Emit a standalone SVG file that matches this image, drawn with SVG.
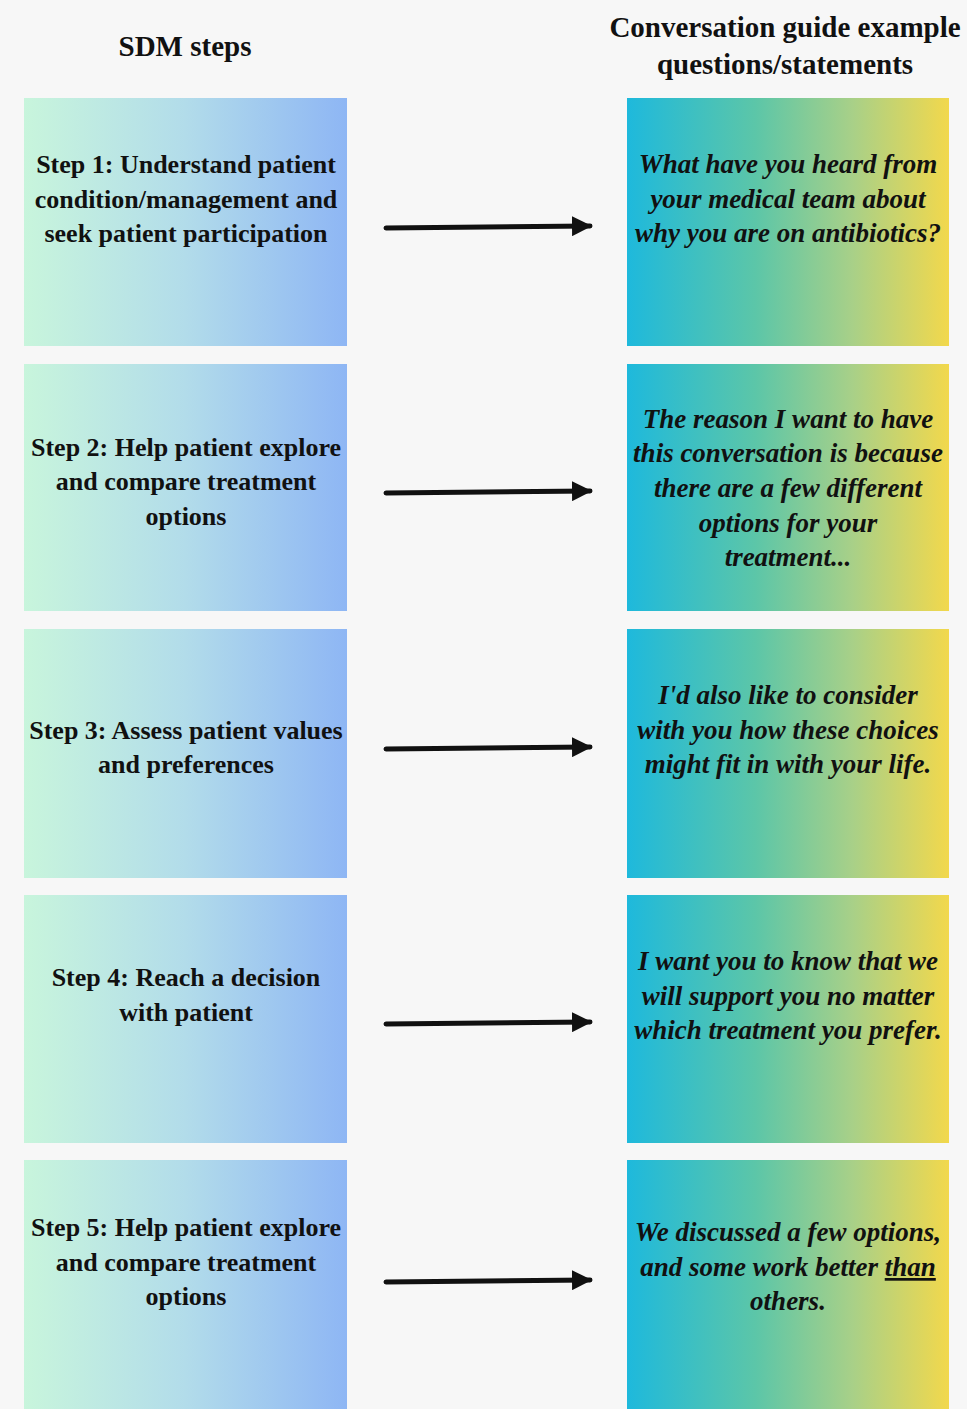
<svg xmlns="http://www.w3.org/2000/svg" width="967" height="1409" viewBox="0 0 967 1409">
<defs>
<linearGradient id="gl" x1="0" y1="0" x2="1" y2="0">
<stop offset="0" stop-color="#c8f5dc"/>
<stop offset="0.5" stop-color="#b2dcea"/>
<stop offset="1" stop-color="#8eb6f4"/>
</linearGradient>
<linearGradient id="gr" x1="0" y1="0" x2="1" y2="0">
<stop offset="0" stop-color="#1eb9dc"/>
<stop offset="0.4" stop-color="#5cc6a8"/>
<stop offset="0.7" stop-color="#a8d088"/>
<stop offset="1" stop-color="#f2d84c"/>
</linearGradient>
<marker id="ah" viewBox="0 0 10 10" refX="9" refY="5" markerWidth="4" markerHeight="4" orient="auto" markerUnits="strokeWidth">
<path d="M0,0 L10,5 L0,10 Z" fill="#111"/>
</marker>
<style>
text{font-family:"Liberation Serif","DejaVu Serif",serif;font-weight:bold;fill:#111;text-anchor:middle;font-size:26px}
.h{font-size:29px}
.q{font-style:italic;font-size:27px}
.l{fill:url(#gl)}
.r{fill:url(#gr)}
.c{stroke:#111;stroke-width:5;fill:none;marker-end:url(#ah);stroke-linecap:round}
</style>
</defs>
<rect width="967" height="1409" fill="#f7f7f7"/>
<g id="headers">
<text class="h" x="185" y="56">SDM steps</text>
<text class="h" x="785" y="37">Conversation guide example</text>
<text class="h" x="785" y="74">questions/statements</text>
</g>
<g id="step1">
<rect class="l" x="24" y="98" width="323" height="248"/>
<text x="186" y="173">Step 1: Understand patient</text>
<text x="186" y="208">condition/management and</text>
<text x="186" y="242">seek patient participation</text>
</g>
<g id="q1">
<rect class="r" x="627" y="98" width="322" height="248"/>
<text class="q" x="788" y="173">What have you heard from</text>
<text class="q" x="788" y="208">your medical team about</text>
<text class="q" x="788" y="242">why you are on antibiotics?</text>
</g>
<g id="step2">
<rect class="l" x="24" y="364" width="323" height="247"/>
<text x="186" y="456">Step 2: Help patient explore</text>
<text x="186" y="490">and compare treatment</text>
<text x="186" y="525">options</text>
</g>
<g id="q2">
<rect class="r" x="627" y="364" width="322" height="247"/>
<text class="q" x="788" y="428">The reason I want to have</text>
<text class="q" x="788" y="462">this conversation is because</text>
<text class="q" x="788" y="497">there are a few different</text>
<text class="q" x="788" y="532">options for your</text>
<text class="q" x="788" y="566">treatment...</text>
</g>
<g id="step3">
<rect class="l" x="24" y="629" width="323" height="249"/>
<text x="186" y="739">Step 3: Assess patient values</text>
<text x="186" y="773">and preferences</text>
</g>
<g id="q3">
<rect class="r" x="627" y="629" width="322" height="249"/>
<text class="q" x="788" y="704">I'd also like to consider</text>
<text class="q" x="788" y="739">with you how these choices</text>
<text class="q" x="788" y="773">might fit in with your life.</text>
</g>
<g id="step4">
<rect class="l" x="24" y="895" width="323" height="248"/>
<text x="186" y="986">Step 4: Reach a decision</text>
<text x="186" y="1021">with patient</text>
</g>
<g id="q4">
<rect class="r" x="627" y="895" width="322" height="248"/>
<text class="q" x="788" y="970">I want you to know that we</text>
<text class="q" x="788" y="1005">will support you no matter</text>
<text class="q" x="788" y="1039">which treatment you prefer.</text>
</g>
<g id="step5">
<rect class="l" x="24" y="1160" width="323" height="249"/>
<text x="186" y="1236">Step 5: Help patient explore</text>
<text x="186" y="1271">and compare treatment</text>
<text x="186" y="1305">options</text>
</g>
<g id="q5">
<rect class="r" x="627" y="1160" width="322" height="249"/>
<text class="q" x="788" y="1241">We discussed a few options,</text>
<text class="q" x="788" y="1276">and some work better <tspan text-decoration="underline">than</tspan></text>
<text class="q" x="788" y="1310">others.</text>
</g>
<g id="connectors">
<path class="c" d="M386,228 L590,226"/>
<path class="c" d="M386,493 L590,491"/>
<path class="c" d="M386,749 L590,747"/>
<path class="c" d="M386,1024 L590,1022"/>
<path class="c" d="M386,1282 L590,1280"/>
</g>
</svg>
